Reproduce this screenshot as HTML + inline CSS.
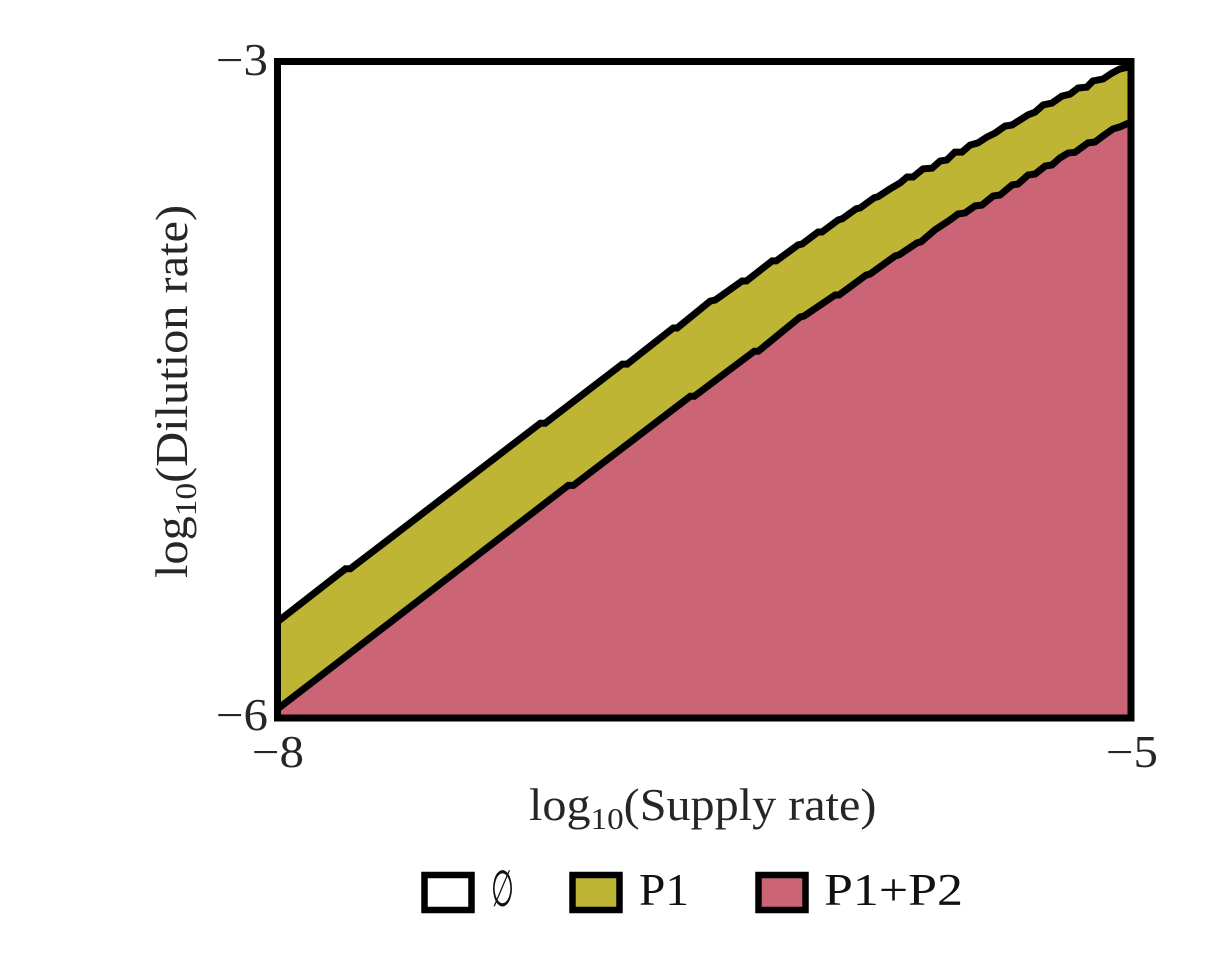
<!DOCTYPE html>
<html lang="en">
<head>
<meta charset="utf-8">
<title>Phase diagram</title>
<style>
html,body{margin:0;padding:0;background:#fff;width:1231px;height:958px;overflow:hidden}
svg{display:block}
text{font-family:"Liberation Serif",serif;fill:#262626}
</style>
</head>
<body>
<svg id="chart" xmlns="http://www.w3.org/2000/svg" width="1231" height="958" viewBox="0 0 1231 958">
  <g id="regions"></g>
  <rect x="277.5" y="61.5" width="853.5" height="656.5" fill="none" stroke="#000" stroke-width="7"/>

  <g>
    <text x="252" y="767" font-size="45" textLength="52" lengthAdjust="spacingAndGlyphs" id="xt0"></text>
    <text x="1106" y="767" font-size="45" textLength="52" lengthAdjust="spacingAndGlyphs" id="xt1"></text>
    <text transform="translate(529,820) scale(1.07,1)" font-size="45">log<tspan font-size="31" dy="9">10</tspan><tspan dy="-9">(Supply rate)</tspan></text>
  </g>

  <g>
    <text x="216" y="75" font-size="45" textLength="52" lengthAdjust="spacingAndGlyphs" id="yt1"></text>
    <text x="216" y="730" font-size="45" textLength="52" lengthAdjust="spacingAndGlyphs" id="yt0"></text>
    <text transform="translate(187,578) rotate(-90) scale(1.075,1)" font-size="45">log<tspan font-size="31" dy="9">10</tspan><tspan dy="-9">(Dilution rate)</tspan></text>
  </g>

  <g>
    <g>
      <rect x="424.5" y="875" width="47" height="35" fill="#fff" stroke="#000" stroke-width="6.5"/>
      <text transform="translate(491,906) scale(.68,1.3)" font-size="39" style="fill:#111">∅</text>
    </g>
    <g>
      <rect x="572.5" y="875" width="47" height="35" fill="#BFB535" stroke="#000" stroke-width="6.5"/>
      <text x="639" y="905" font-size="45" textLength="50" lengthAdjust="spacingAndGlyphs" style="fill:#111">P1</text>
    </g>
    <g>
      <rect x="758.5" y="875" width="47" height="35" fill="#CB6475" stroke="#000" stroke-width="6.5"/>
      <text x="824" y="905" font-size="45" textLength="139" lengthAdjust="spacingAndGlyphs" style="fill:#111">P1+P2</text>
    </g>
  </g>
</svg>
<script>
const xTickLabels = ["\u22128", "\u22125"];
const yTickLabels = ["\u22126", "\u22123"];
const xDomain = [-8, -5];
const yDomain = [-6, -3];

const upperSupply = [-8.000,-7.761,-7.744,-7.076,-7.059,-6.788,-6.771,-6.609,-6.595,-6.479,-6.461,-6.367,-6.352,-6.261,-6.247,-6.170,-6.156,-6.100,-6.086,-6.029,-6.015,-5.966,-5.952,-5.903,-5.889,-5.847,-5.812,-5.787,-5.766,-5.731,-5.699,-5.671,-5.647,-5.619,-5.594,-5.566,-5.538,-5.506,-5.478,-5.443,-5.418,-5.390,-5.362,-5.337,-5.309,-5.278,-5.243,-5.214,-5.186,-5.155,-5.134,-5.098,-5.067,-5.039,-5.000];
const upperDilution = [-5.560,-5.318,-5.318,-4.653,-4.653,-4.383,-4.383,-4.218,-4.218,-4.095,-4.090,-4.003,-4.003,-3.911,-3.911,-3.838,-3.834,-3.779,-3.779,-3.724,-3.719,-3.673,-3.669,-3.623,-3.618,-3.582,-3.555,-3.528,-3.528,-3.491,-3.487,-3.455,-3.450,-3.414,-3.414,-3.382,-3.372,-3.345,-3.327,-3.295,-3.290,-3.267,-3.244,-3.231,-3.199,-3.190,-3.158,-3.149,-3.121,-3.117,-3.089,-3.080,-3.053,-3.034,-3.023];

const lowerSupply = [-8.000,-6.978,-6.960,-6.549,-6.535,-6.324,-6.310,-6.163,-6.149,-6.040,-6.026,-5.931,-5.917,-5.829,-5.815,-5.752,-5.738,-5.689,-5.636,-5.608,-5.583,-5.548,-5.524,-5.485,-5.460,-5.418,-5.397,-5.362,-5.337,-5.302,-5.278,-5.250,-5.221,-5.197,-5.151,-5.127,-5.098,-5.063,-5.039,-5.000];
const lowerDilution = [-5.959,-4.937,-4.937,-4.530,-4.530,-4.324,-4.324,-4.168,-4.163,-4.067,-4.067,-3.976,-3.971,-3.889,-3.884,-3.829,-3.824,-3.769,-3.724,-3.697,-3.692,-3.660,-3.656,-3.615,-3.610,-3.564,-3.560,-3.519,-3.514,-3.478,-3.473,-3.441,-3.418,-3.415,-3.372,-3.368,-3.340,-3.308,-3.299,-3.276];

const plotLeft = 277.5, plotRight = 1131, plotTop = 61.5, plotBottom = 718;
function xScale(v) { return plotLeft + (v - xDomain[0]) / (xDomain[1] - xDomain[0]) * (plotRight - plotLeft); }
function yScale(v) { return plotBottom - (v - yDomain[0]) / (yDomain[1] - yDomain[0]) * (plotBottom - plotTop); }
function toPoints(xs, ys) { return xs.map(function (x, i) { return xScale(x).toFixed(1) + ',' + yScale(ys[i]).toFixed(1); }); }

const NS = 'http://www.w3.org/2000/svg';
const regions = document.getElementById('regions');
const upperPts = toPoints(upperSupply, upperDilution);
const lowerPts = toPoints(lowerSupply, lowerDilution);

const p1Area = document.createElementNS(NS, 'polygon');


p1Area.setAttribute('points', upperPts.concat(lowerPts.slice().reverse()).join(' '));
p1Area.setAttribute('fill', '#BFB535');
regions.appendChild(p1Area);

const p2Area = document.createElementNS(NS, 'polygon');


p2Area.setAttribute('points', lowerPts.concat([xScale(xDomain[1]).toFixed(1) + ',' + yScale(yDomain[0]).toFixed(1), xScale(xDomain[0]).toFixed(1) + ',' + yScale(yDomain[0]).toFixed(1)]).join(' '));
p2Area.setAttribute('fill', '#CB6475');
regions.appendChild(p2Area);

const upperLine = document.createElementNS(NS, 'polyline');


upperLine.setAttribute('points', upperPts.join(' '));
upperLine.setAttribute('fill', 'none');
upperLine.setAttribute('stroke', '#000');
upperLine.setAttribute('stroke-width', '7');
upperLine.setAttribute('stroke-linejoin', 'miter');
regions.appendChild(upperLine);

const lowerLine = document.createElementNS(NS, 'polyline');


lowerLine.setAttribute('points', lowerPts.join(' '));
lowerLine.setAttribute('fill', 'none');
lowerLine.setAttribute('stroke', '#000');
lowerLine.setAttribute('stroke-width', '7');
lowerLine.setAttribute('stroke-linejoin', 'miter');
regions.appendChild(lowerLine);

document.getElementById('xt0').textContent = xTickLabels[0];
document.getElementById('xt1').textContent = xTickLabels[1];
document.getElementById('yt0').textContent = yTickLabels[0];
document.getElementById('yt1').textContent = yTickLabels[1];
</script>
</body>
</html>
